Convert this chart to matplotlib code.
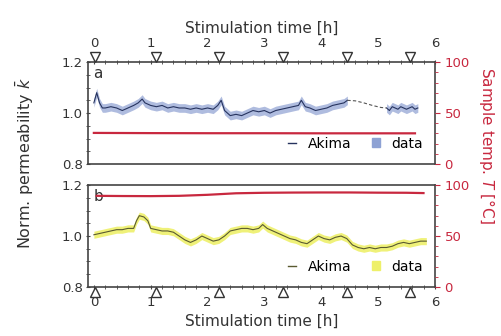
import matplotlib
matplotlib.use("Agg")
import matplotlib.pyplot as plt
from matplotlib.lines import Line2D
from matplotlib.patches import Patch
from matplotlib.ticker import MultipleLocator
from matplotlib.transforms import offset_copy

# panel a: normalised permeability (blue), sample at ~30 °C
t_a = [0.00, 0.05, 0.10, 0.15, 0.20, 0.30, 0.40, 0.50, 0.60, 0.70, 0.78, 0.85, 0.90,
       1.00, 1.10, 1.20, 1.30, 1.40, 1.50, 1.60, 1.70, 1.80, 1.90, 2.00, 2.10, 2.18, 2.24,
       2.30, 2.40, 2.50, 2.60, 2.70, 2.80, 2.90, 3.00, 3.10, 3.20, 3.30, 3.40, 3.50, 3.60,
       3.65, 3.72, 3.80, 3.90, 4.00, 4.10, 4.20, 4.30, 4.40, 4.46]
k_a = [1.04, 1.08, 1.04, 1.02, 1.02, 1.025, 1.02, 1.01, 1.02, 1.03, 1.04, 1.055, 1.04,
       1.03, 1.025, 1.03, 1.02, 1.025, 1.02, 1.02, 1.015, 1.02, 1.015, 1.02, 1.015, 1.03, 1.05,
       1.01, 0.99, 0.995, 0.99, 1.00, 1.01, 1.005, 1.01, 1.00, 1.01, 1.015, 1.02, 1.025, 1.03,
       1.05, 1.025, 1.02, 1.01, 1.015, 1.02, 1.03, 1.035, 1.04, 1.05]
t_a2 = [5.15, 5.20, 5.25, 5.30, 5.35, 5.40, 5.45, 5.50, 5.55, 5.60, 5.65, 5.70]
k_a2 = [1.02, 1.01, 1.025, 1.02, 1.015, 1.025, 1.02, 1.015, 1.02, 1.025, 1.015, 1.02]
t_gap = [4.46, 4.60, 4.75, 4.90, 5.05, 5.15]
k_gap = [1.05, 1.048, 1.04, 1.03, 1.022, 1.02]
T_a_t = [0.0, 1.0, 2.0, 3.0, 4.0, 5.0, 5.65]
T_a = [30.5, 30.3, 30.2, 30.2, 30.1, 30.1, 30.1]

# panel b: normalised permeability (yellow), sample at ~90 °C
t_b = [0.00, 0.10, 0.20, 0.30, 0.40, 0.50, 0.60, 0.70, 0.75, 0.80, 0.88, 0.95,
       1.00, 1.10, 1.20, 1.30, 1.40, 1.50, 1.60, 1.70, 1.80, 1.90, 2.00, 2.10, 2.20, 2.30,
       2.40, 2.50, 2.60, 2.70, 2.80, 2.90, 2.97, 3.05, 3.15, 3.25, 3.35, 3.45, 3.55, 3.65,
       3.75, 3.85, 3.95, 4.05, 4.15, 4.25, 4.35, 4.45, 4.55, 4.65, 4.75, 4.85, 4.95, 5.05,
       5.15, 5.25, 5.35, 5.45, 5.55, 5.65, 5.75, 5.85]
k_b = [1.005, 1.01, 1.015, 1.02, 1.025, 1.025, 1.03, 1.03, 1.06, 1.08, 1.075, 1.06,
       1.03, 1.025, 1.02, 1.02, 1.015, 1.0, 0.985, 0.975, 0.985, 1.0, 0.99, 0.98, 0.985, 1.0,
       1.02, 1.025, 1.03, 1.03, 1.025, 1.03, 1.045, 1.03, 1.02, 1.01, 1.0, 0.99, 0.985, 0.975,
       0.97, 0.985, 1.0, 0.99, 0.985, 0.995, 1.0, 0.99, 0.965, 0.955, 0.95, 0.955, 0.95, 0.955,
       0.955, 0.96, 0.97, 0.975, 0.97, 0.975, 0.98, 0.98]
T_b_t = [0.05, 0.5, 1.0, 1.5, 2.0, 2.5, 3.0, 3.5, 4.0, 4.5, 5.0, 5.5, 5.8]
T_b = [89.5, 89.3, 89.2, 89.5, 90.5, 92.0, 92.5, 92.7, 92.8, 92.8, 92.6, 92.5, 92.2]

# stimulation start times (triangles)
stim_t = [0.02, 1.1, 2.2, 3.33, 4.46, 5.56]

red = "#c8283f"
grey = "#444444"
txt = "#333333"

fig = plt.figure(figsize=(5.01, 3.36), dpi=100)
ax_a = fig.add_axes([0.176, 0.512, 0.692, 0.303])
ax_b = fig.add_axes([0.176, 0.146, 0.692, 0.303])


def style(ax, tw, top):
    ax.set_xlim(-0.1, 6)
    ax.set_ylim(0.8, 1.2)
    ax.set_yticks([0.8, 1.0, 1.2])
    ax.yaxis.set_minor_locator(MultipleLocator(0.05))
    ax.xaxis.set_major_locator(MultipleLocator(1))
    ax.xaxis.set_minor_locator(MultipleLocator(0.2))
    for s in ax.spines.values():
        s.set_color(grey)
        s.set_linewidth(1.2)
    ax.tick_params(axis="y", direction="inout", labelsize=9.5, colors=grey,
                   labelcolor=txt, pad=2)
    ax.tick_params(axis="y", which="minor", direction="inout", length=3, colors=grey)
    if top:
        ax.tick_params(axis="x", which="both", top=True, bottom=False, labeltop=True,
                       labelbottom=False, direction="inout", labelsize=9.5, colors=grey,
                       labelcolor=txt, pad=7)
        ax.xaxis.set_label_position("top")
    else:
        ax.tick_params(axis="x", which="both", direction="inout", labelsize=9.5, colors=grey,
                       labelcolor=txt, pad=5)
    ax.tick_params(axis="x", which="minor", length=3)
    ax.set_xlabel("Stimulation time [h]", fontsize=11, color=txt, labelpad=3)
    tw.set_ylim(0, 100)
    tw.set_yticks([0, 50, 100])
    tw.yaxis.set_minor_locator(MultipleLocator(10))
    tw.tick_params(axis="y", which="both", colors=red, labelsize=9.5, direction="out")
    tw.tick_params(axis="y", which="minor", length=2)
    for s in tw.spines.values():
        s.set_visible(False)


def stim_marks(ax, y, marker, dy):
    tr = offset_copy(ax.transData, fig=fig, x=0, y=dy, units="points")
    ax.plot(stim_t, [y] * len(stim_t), ls="none", marker=marker, ms=6.5, mfc="white",
            mec="#333333", mew=1, clip_on=False, zorder=5, transform=tr)


tw_a = ax_a.twinx()
tw_b = ax_b.twinx()
style(ax_a, tw_a, True)
style(ax_b, tw_b, False)

# panel a
tw_a.plot(T_a_t, T_a, color=red, lw=1.6)
for tt, kk in [(t_a, k_a), (t_a2, k_a2)]:
    ax_a.fill_between(tt, [v - 0.017 for v in kk], [v + 0.017 for v in kk],
                      color="#a7b5dc", alpha=0.9, lw=0)
    ax_a.plot(tt, kk, color="#26335e", lw=0.8)
ax_a.plot(t_gap, k_gap, color="#555555", lw=0.8, ls=(0, (3, 2)))
stim_marks(ax_a, 1.2, "v", 3.5)
ax_a.text(0.015, 0.96, "a", transform=ax_a.transAxes, va="top", fontsize=11, color=txt)
ax_a.legend([Line2D([], [], color="#26335e", lw=1),
             Patch(facecolor="#8ea2d4", edgecolor="#8ea2d4")],
            ["Akima", "data"], ncol=2, loc="lower right", frameon=False, fontsize=10,
            handlelength=0.6, handleheight=0.6, columnspacing=1.5, borderaxespad=0.2,
            bbox_to_anchor=(0.99, 0.05))

# panel b
tw_b.plot(T_b_t, T_b, color=red, lw=1.6)
ax_b.fill_between(t_b, [v - 0.014 for v in k_b], [v + 0.014 for v in k_b],
                  color="#eef06a", alpha=0.9, lw=0)
ax_b.plot(t_b, k_b, color="#5a5a30", lw=0.8)
stim_marks(ax_b, 0.8, "^", -3.5)
ax_b.text(0.015, 0.96, "b", transform=ax_b.transAxes, va="top", fontsize=11, color=txt)
ax_b.legend([Line2D([], [], color="#5a5a30", lw=1),
             Patch(facecolor="#eef06a", edgecolor="#eef06a")],
            ["Akima", "data"], ncol=2, loc="lower right", frameon=False, fontsize=10,
            handlelength=0.6, handleheight=0.6, columnspacing=1.5, borderaxespad=0.2,
            bbox_to_anchor=(0.99, 0.05))

fig.text(0.05, 0.515, r"Norm. permeability $\bar{k}$", rotation=90, va="center",
         ha="center", fontsize=11.5, color=txt)
fig.text(0.972, 0.568, r"Sample temp. $T$ [°C]", rotation=270, va="center",
         ha="center", fontsize=11, color=red)

fig.savefig("out.png", dpi=100)
